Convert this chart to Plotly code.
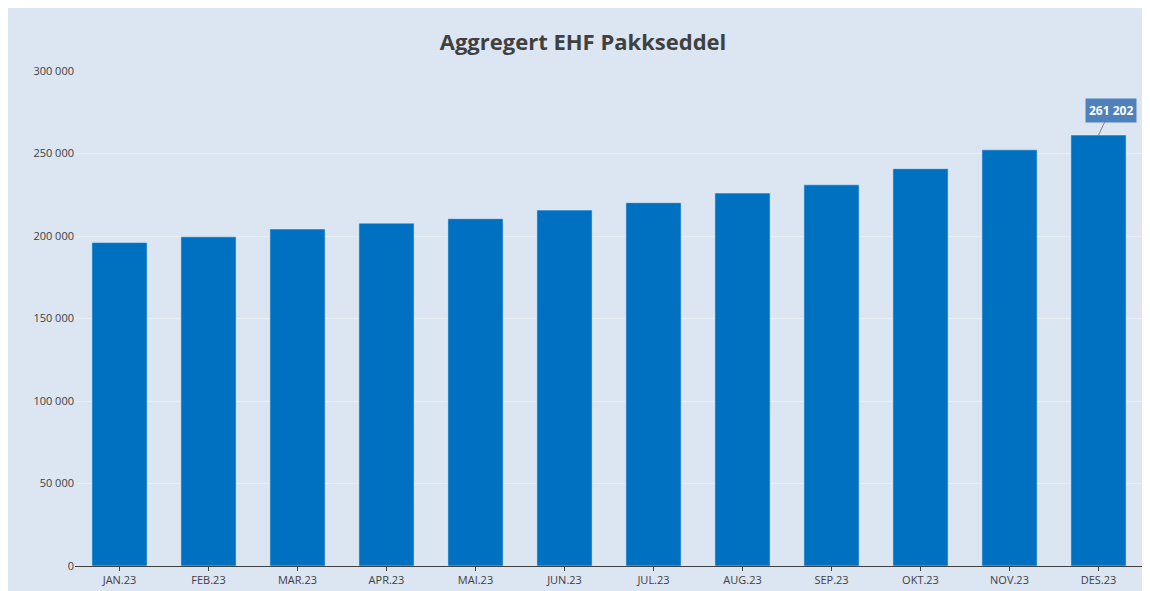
import plotly.graph_objects as go

months = ["JAN.23","FEB.23","MAR.23","APR.23","MAI.23","JUN.23","JUL.23","AUG.23","SEP.23","OKT.23","NOV.23","DES.23"]
values = [196000, 199500, 204200, 207800, 210500, 215700, 220200, 226000, 231000, 240800, 252200, 261202]
tickvals = [0, 50000, 100000, 150000, 200000, 250000, 300000]
ticktext = ["0", "50 000", "100 000", "150 000", "200 000", "250 000", "300 000"]

fig = go.Figure(go.Bar(x=months, y=values, marker_color="#0070c0", width=0.62))
fig.add_annotation(x=months[-1], y=values[-1], text="<b>261 202</b>", showarrow=True,
                   arrowhead=0, arrowwidth=1, arrowcolor="#7f7f7f", ax=12, ay=-25,
                   bgcolor="#4f81bd", font=dict(color="white", size=12, family="Open Sans"),
                   borderpad=3)
fig.update_layout(
    width=1150, height=591,
    paper_bgcolor="#dce6f2", plot_bgcolor="#dce6f2",
    title=dict(text="<b>Aggregert EHF Pakkseddel</b>", x=0.5, y=0.955, xanchor="center",
               font=dict(size=22, color="#404040", family="Open Sans")),
    margin=dict(l=67, r=15, t=63, b=33),
    font=dict(family="Open Sans", size=11, color="#404040"),
    yaxis=dict(range=[0, 300000], tickvals=tickvals, ticktext=ticktext,
               gridcolor="#e8eef6", zeroline=False, showline=False),
    xaxis=dict(showline=True, linecolor="#404040", linewidth=1, ticks="outside",
               tickcolor="#404040", ticklen=4, tickfont=dict(size=11)),
    bargap=0.38, showlegend=False,
)
fig.write_html("out.html")
